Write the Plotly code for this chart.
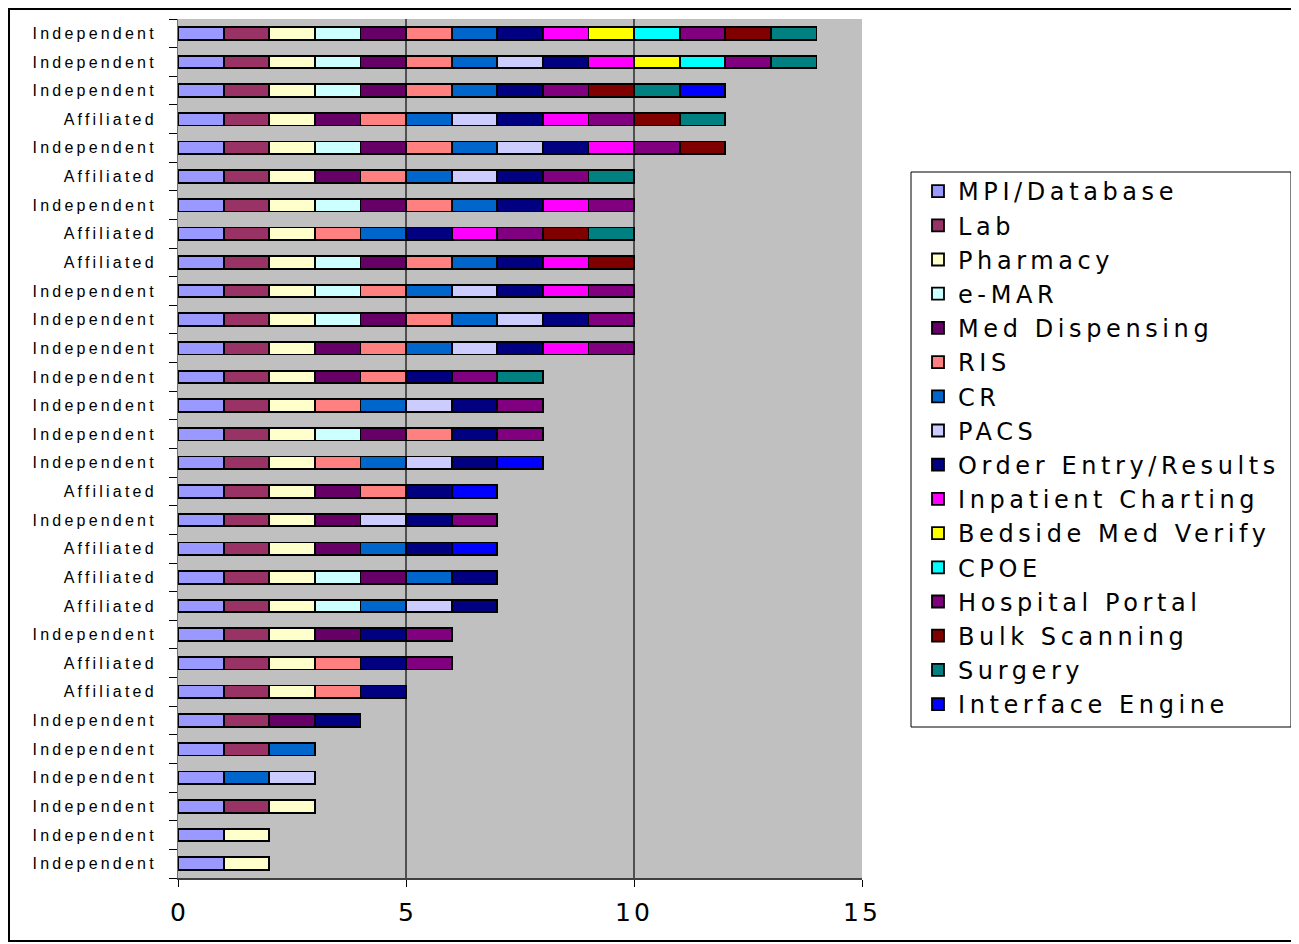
import plotly.graph_objects as go

# ---------------- data ----------------
row_labels = [
    "Independent", "Independent", "Independent", "Affiliated", "Independent",
    "Affiliated", "Independent", "Affiliated", "Affiliated", "Independent",
    "Independent", "Independent", "Independent", "Independent", "Independent",
    "Independent", "Affiliated", "Independent", "Affiliated", "Affiliated",
    "Affiliated", "Independent", "Affiliated", "Affiliated", "Independent",
    "Independent", "Independent", "Independent", "Independent", "Independent",
]

series_names = [
    "MPI/Database", "Lab", "Pharmacy", "e-MAR", "Med Dispensing", "RIS", "CR",
    "PACS", "Order Entry/Results", "Inpatient Charting", "Bedside Med Verify",
    "CPOE", "Hospital Portal", "Bulk Scanning", "Surgery", "Interface Engine",
]

series_colors = [
    "#9999FF", "#993366", "#FFFFCC", "#CCFFFF", "#660066", "#FF8080", "#0066CC",
    "#CCCCFF", "#000080", "#FF00FF", "#FFFF00", "#00FFFF", "#800080", "#800000",
    "#008080", "#0000FF",
]

# one value per row (top row first); 1 = system installed, 0 = not installed
mpi_database      = [1,1,1,1,1,1,1,1,1,1,1,1,1,1,1,1,1,1,1,1,1,1,1,1,1,1,1,1,1,1]
lab               = [1,1,1,1,1,1,1,1,1,1,1,1,1,1,1,1,1,1,1,1,1,1,1,1,1,1,0,1,0,0]
pharmacy          = [1,1,1,1,1,1,1,1,1,1,1,1,1,1,1,1,1,1,1,1,1,1,1,1,0,0,0,1,1,1]
e_mar             = [1,1,1,0,1,0,1,0,1,1,1,0,0,0,1,0,0,0,0,1,1,0,0,0,0,0,0,0,0,0]
med_dispensing    = [1,1,1,1,1,1,1,0,1,0,1,1,1,0,1,0,1,1,1,1,0,1,0,0,1,0,0,0,0,0]
ris               = [1,1,1,1,1,1,1,1,1,1,1,1,1,1,1,1,1,0,0,0,0,0,1,1,0,0,0,0,0,0]
cr                = [1,1,1,1,1,1,1,1,1,1,1,1,0,1,0,1,0,0,1,1,1,0,0,0,0,1,1,0,0,0]
pacs              = [0,1,0,1,1,1,0,0,0,1,1,1,0,1,0,1,0,1,0,0,1,0,0,0,0,0,1,0,0,0]
order_entry       = [1,1,1,1,1,1,1,1,1,1,1,1,1,1,1,1,1,1,1,1,1,1,1,1,1,0,0,0,0,0]
inpatient_chart   = [1,1,0,1,1,0,1,1,1,1,0,1,0,0,0,0,0,0,0,0,0,0,0,0,0,0,0,0,0,0]
bedside_med_verif = [1,1,0,0,0,0,0,0,0,0,0,0,0,0,0,0,0,0,0,0,0,0,0,0,0,0,0,0,0,0]
cpoe              = [1,1,0,0,0,0,0,0,0,0,0,0,0,0,0,0,0,0,0,0,0,0,0,0,0,0,0,0,0,0]
hospital_portal   = [1,1,1,1,1,1,1,1,0,1,1,1,1,1,1,0,0,1,0,0,0,1,1,0,0,0,0,0,0,0]
bulk_scanning     = [1,0,1,1,1,0,0,1,1,0,0,0,0,0,0,0,0,0,0,0,0,0,0,0,0,0,0,0,0,0]
surgery           = [1,1,1,1,0,1,0,1,0,0,0,0,1,0,0,0,0,0,0,0,0,0,0,0,0,0,0,0,0,0]
interface_engine  = [0,0,1,0,0,0,0,0,0,0,0,0,0,0,0,1,1,0,1,0,0,0,0,0,0,0,0,0,0,0]

series_values = [
    mpi_database, lab, pharmacy, e_mar, med_dispensing, ris, cr, pacs,
    order_entry, inpatient_chart, bedside_med_verif, cpoe, hospital_portal,
    bulk_scanning, surgery, interface_engine,
]

x_tick_values = [0, 5, 10, 15]

# ---------------- layout geometry (screen pixels) ----------------
OFF = 8                      # page body margin
W, H = 1299 - OFF, 944 - OFF
PL, PR, PT, PB = 178, 862, 19, 878   # plot area edges on screen


def px_x(p):
    return (p - PL) / (PR - PL)


def px_y(p):
    return (PB - p) / (PB - PT)


def spaced(text, sp):
    return f'<span style="letter-spacing:{sp}px">{text}</span>'


rows = list(range(len(row_labels)))

fig = go.Figure()
for name, color, vals in zip(series_names, series_colors, series_values):
    fig.add_trace(go.Bar(
        y=rows,
        x=[v if v else None for v in vals],
        orientation="h",
        name=spaced(name, 4.6),
        width=0.44,
        marker=dict(color=color, line=dict(color="black", width=1.8)),
        hovertemplate=name + ": %{x}<extra></extra>",
    ))

# outer chart border and legend box
fig.add_shape(type="rect", xref="paper", yref="paper",
              x0=px_x(OFF + 1), x1=px_x(1296), y0=px_y(941), y1=px_y(OFF + 1),
              line=dict(color="black", width=2), fillcolor="rgba(0,0,0,0)", layer="below")
fig.add_shape(type="rect", xref="paper", yref="paper",
              x0=px_x(911), x1=px_x(1291), y0=px_y(727), y1=px_y(172),
              line=dict(color="black", width=1), fillcolor="white", layer="below")

fig.update_layout(
    width=W, height=H,
    margin=dict(l=PL - OFF, r=W - (PR - OFF), t=PT - OFF, b=H - (PB - OFF), pad=0),
    barmode="stack",
    paper_bgcolor="white",
    plot_bgcolor="#C0C0C0",
    font=dict(family="Liberation Sans, Arial", color="black"),
    showlegend=True,
    legend=dict(
        x=px_x(918), y=px_y(169), xanchor="left", yanchor="top",
        traceorder="normal",
        font=dict(family="DejaVu Sans", size=24, color="black"),
        bgcolor="rgba(0,0,0,0)", borderwidth=0, tracegroupgap=0,
    ),
    xaxis=dict(
        range=[0, 15],
        tickmode="array", tickvals=x_tick_values,
        ticktext=[str(v) if v < 10 else spaced(str(v), 3) for v in x_tick_values],
        ticks="outside", ticklen=7, tickcolor="black", tickwidth=1,
        ticklabelstandoff=4,
        tickfont=dict(family="DejaVu Sans", size=25, color="black"),
        showgrid=True, gridcolor="#505050", gridwidth=1.5,
        showline=True, linecolor="#404040", linewidth=2,
        zeroline=False, fixedrange=True,
    ),
    yaxis=dict(
        range=[len(rows) - 0.5, -0.5],
        tickmode="array", tickvals=rows,
        ticktext=[spaced(t, 3.2) for t in row_labels],
        ticks="", ticklabelstandoff=17,
        tickfont=dict(family="Liberation Sans", size=16, color="black"),
        showgrid=False, zeroline=False,
        showline=True, linecolor="#707070", linewidth=1,
        minor=dict(tickmode="array",
                   tickvals=[i - 0.5 for i in range(len(rows) + 1)],
                   ticks="outside", ticklen=8, tickcolor="black", tickwidth=1,
                   showgrid=False),
        fixedrange=True,
    ),
)

fig.write_html("out.html")
